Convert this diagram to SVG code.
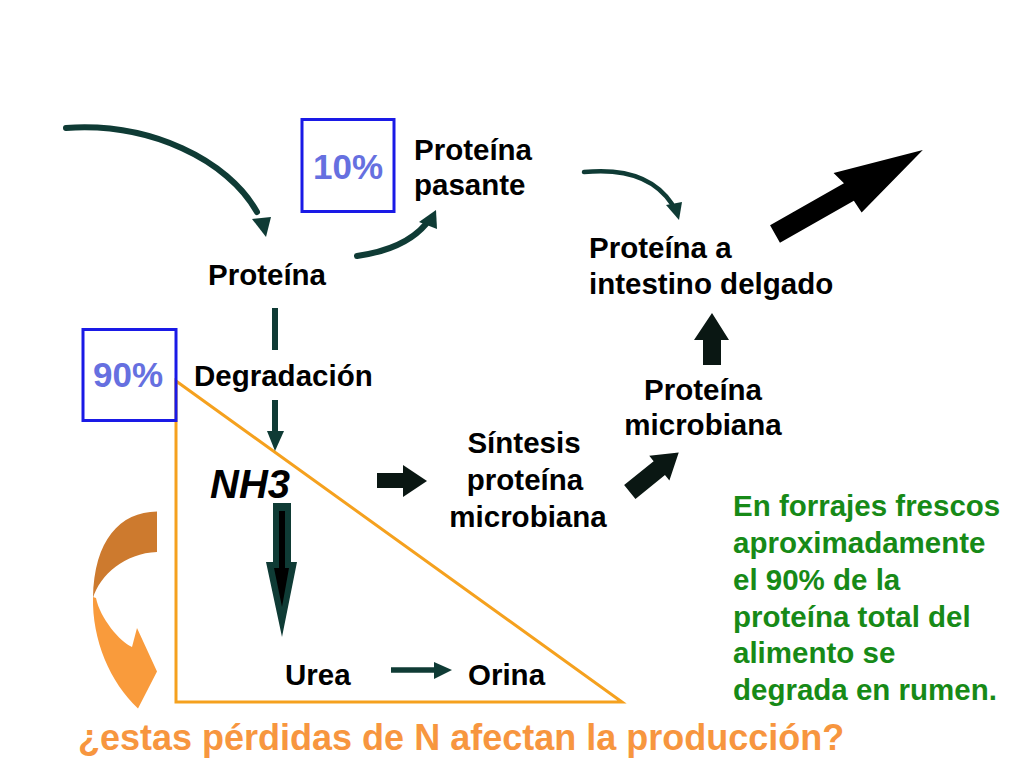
<svg xmlns="http://www.w3.org/2000/svg" width="1024" height="768" viewBox="0 0 1024 768">
<defs>
<style>
.t{font-family:"Liberation Sans",Arial,sans-serif;font-weight:bold;font-size:29.5px;fill:#000}
.pct{font-family:"Liberation Sans",Arial,sans-serif;font-weight:bold;font-size:35px;fill:#6670E0}
.box{fill:none;stroke:#1A1AE6;stroke-width:3}
.g{font-family:"Liberation Sans",Arial,sans-serif;font-weight:bold;font-size:29.5px;fill:#178A17}
.curve{fill:none;stroke:#0F3B35;stroke-linecap:round}
.dk{fill:#0F3B35}
.blk{fill:#000}
</style>
</defs>
<rect width="1024" height="768" fill="#fff"/>

<g id="triangle">
<polygon points="176,381 176,702 622,702" fill="none" stroke="#F5A11E" stroke-width="3"/>
</g>

<g id="connectors">
<!-- feed to Proteina -->
<path class="curve" stroke-width="6" d="M66,128 C150,122 228,160 257,212"/>
<polygon class="dk" points="266,237 252,219 271,217"/>
<!-- Proteina to pasante -->
<path class="curve" stroke-width="6" d="M357,256 C385,252 410,243 426,224"/>
<polygon class="dk" points="436,210 419,222 437,229"/>
<!-- pasante to intestino -->
<path class="curve" stroke-width="4.5" d="M584,172 C625,168 655,178 672,204"/>
<polygon class="dk" points="679,220 666,205 682,202"/>
<!-- Proteina to Degradacion -->
<line x1="275" y1="308" x2="275" y2="350" stroke="#0F3B35" stroke-width="6"/>
<line x1="275" y1="400" x2="275" y2="434" stroke="#0F3B35" stroke-width="6"/>
<polygon class="dk" points="267,431 284,431 275,451"/>
<!-- NH3 to Urea -->
<polygon class="dk" points="273,503 291,503 291,562 297,562 282,637 266,562 273,562"/>
<polygon class="blk" points="279,511 285,511 285,568 289,568 282,607 274,568 279,568"/>
<!-- NH3 to Sintesis -->
<polygon fill="#0A1713" points="377,473 403,473 403,465 427,481 403,497 403,488 377,488"/>
<!-- Sintesis to Proteina microbiana -->
<polygon fill="#0A1713" transform="translate(636,487) rotate(-39)" points="-8,-9 30,-9 30,-16 55,0 30,16 30,9 -8,9"/>
<!-- microbiana to intestino -->
<polygon fill="#0A1713" points="703,365 721,365 721,340 729,340 712,313 694,340 703,340"/>
<!-- Urea to Orina -->
<line x1="391" y1="670" x2="436" y2="670" stroke="#0F3B35" stroke-width="5.5"/>
<polygon class="dk" points="434,662 452,670 434,679"/>
<!-- intestino out -->
<polygon fill="#000" transform="translate(775,234) rotate(-29.6)" points="0,-10 85,-10 81,-24 170,0 86,24 85,10 0,10"/>
</g>

<g id="orange-arrow">
<path fill="#CD7A2E" d="M157,511.5 C120,512 94,540 93,598 C100,575 125,553 157,552 Z"/>
<path fill="#F99B3C" d="M93,597 C92,640 110,682 138,708.5 L157,671.5 L137,628 L132,647 C120,642 100,618 96,598 Z"/>
</g>

<g id="node-proteina"><text class="t" x="208" y="285">Proteína</text></g>

<g id="node-10">
<rect class="box" x="302" y="119.5" width="92" height="92"/>
<text class="pct" x="313" y="179">10%</text>
</g>

<g id="node-pasante">
<text class="t" x="414" y="160">Proteína</text>
<text class="t" x="414" y="195">pasante</text>
</g>

<g id="node-90">
<rect class="box" x="83" y="329.5" width="93" height="91"/>
<text class="pct" x="93" y="387">90%</text>
</g>

<g id="node-degradacion"><text class="t" x="194" y="386">Degradación</text></g>

<g id="node-intestino">
<text class="t" x="589" y="258">Proteína a</text>
<text class="t" x="589" y="294">intestino delgado</text>
</g>

<g id="node-microbiana">
<text class="t" x="703" y="400" text-anchor="middle">Proteína</text>
<text class="t" x="703" y="435" text-anchor="middle">microbiana</text>
</g>

<g id="node-sintesis">
<text class="t" x="524" y="453" text-anchor="middle">Síntesis</text>
<text class="t" x="525" y="490" text-anchor="middle">proteína</text>
<text class="t" x="528" y="527" text-anchor="middle">microbiana</text>
</g>

<g id="node-nh3"><text x="210" y="498" font-family="Liberation Sans,Arial,sans-serif" font-weight="bold" font-style="italic" font-size="40" fill="#000">NH3</text></g>

<g id="node-urea"><text class="t" x="285" y="685">Urea</text></g>
<g id="node-orina"><text class="t" x="468" y="685">Orina</text></g>

<g id="note">
<text class="g" x="733" y="516">En forrajes frescos</text>
<text class="g" x="733" y="553">aproximadamente</text>
<text class="g" x="733" y="590">el 90% de la</text>
<text class="g" x="733" y="627">proteína total del</text>
<text class="g" x="733" y="663">alimento se</text>
<text class="g" x="733" y="700">degrada en rumen.</text>
</g>

<g id="question">
<text x="78" y="750" font-family="Liberation Sans,Arial,sans-serif" font-weight="bold" font-size="36" fill="#F7963F">¿estas pérdidas de N afectan la producción?</text>
</g>
</svg>
